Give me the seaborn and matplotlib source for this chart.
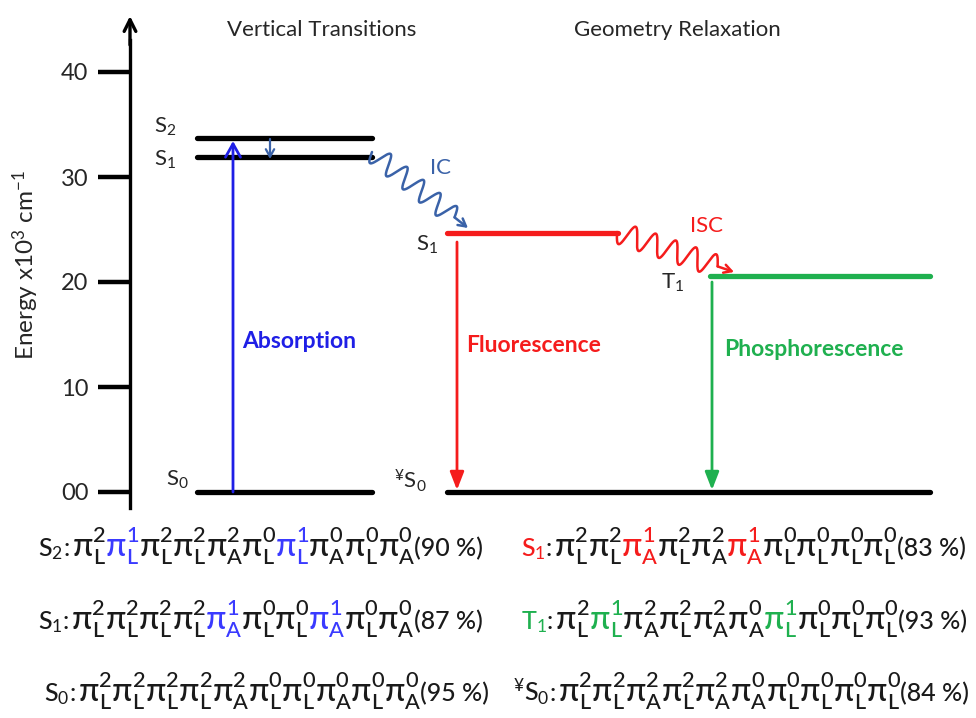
import numpy as np
import pandas as pd
import seaborn as sns
import matplotlib.pyplot as plt

# energy levels (x10^3 cm-1)
level_names = ["S2", "S1", "S0", "S1r", "T1", "S0r"]
level_energy = [33.7, 31.9, 0.0, 24.7, 20.6, 0.0]
level_labels = ["S$_2$", "S$_1$", "S$_0$", "S$_1$", "T$_1$", "$^{¥}$S$_0$"]

y_ticks = [0, 10, 20, 30, 40]
y_ticklabels = ["00", "10", "20", "30", "40"]
col_titles = ["Vertical Transitions", "Geometry Relaxation"]

# orbital configurations: (orbital, occupation, highlighted)
conf_s2 = [("L", 2, 0), ("L", 1, 1), ("L", 2, 0), ("L", 2, 0), ("A", 2, 0),
           ("L", 0, 0), ("L", 1, 1), ("A", 0, 0), ("L", 0, 0), ("A", 0, 0)]
conf_s1 = [("L", 2, 0), ("L", 2, 0), ("L", 2, 0), ("L", 2, 0), ("A", 1, 1),
           ("L", 0, 0), ("L", 0, 0), ("A", 1, 1), ("L", 0, 0), ("A", 0, 0)]
conf_s0 = [("L", 2, 0), ("L", 2, 0), ("L", 2, 0), ("L", 2, 0), ("A", 2, 0),
           ("L", 0, 0), ("L", 0, 0), ("A", 0, 0), ("L", 0, 0), ("A", 0, 0)]
conf_s1r = [("L", 2, 0), ("L", 2, 0), ("A", 1, 1), ("L", 2, 0), ("A", 2, 0),
            ("A", 1, 1), ("L", 0, 0), ("L", 0, 0), ("L", 0, 0), ("L", 0, 0)]
conf_t1 = [("L", 2, 0), ("L", 1, 1), ("A", 2, 0), ("L", 2, 0), ("A", 2, 0),
           ("A", 0, 0), ("L", 1, 1), ("L", 0, 0), ("L", 0, 0), ("L", 0, 0)]
conf_s0r = [("L", 2, 0), ("L", 2, 0), ("A", 2, 0), ("L", 2, 0), ("A", 2, 0),
            ("A", 0, 0), ("L", 0, 0), ("L", 0, 0), ("L", 0, 0), ("L", 0, 0)]
conf_weight = [90, 87, 95, 83, 93, 84]

BLUE = "#1f1fe6"
STEEL = "#3a62a8"
RED = "#f51c1c"
GREEN = "#1fb04f"
TBLUE = "#3a3aff"
INK = "#1a1a1a"

W, H = 976, 718
Y0, K = 492, 10.5          # pixel row of E=0, pixels per unit


def ey(py):
    return (Y0 - np.asarray(py, float)) / K


sns.set_theme(style="white")
plt.rcParams["font.family"] = ["Lato", "DejaVu Sans"]
plt.rcParams["mathtext.fontset"] = "custom"
plt.rcParams["mathtext.rm"] = "Lato"
plt.rcParams["mathtext.it"] = "Lato"
plt.rcParams["mathtext.bf"] = "Lato:bold"

fig = plt.figure(figsize=(W / 100, H / 100), dpi=100)
ax = fig.add_axes([0, 0, 1, 1])
ax.set_xlim(0, W)
ax.set_ylim(ey(H), ey(0))

# level lines
level_x = [(197, 372), (197, 372), (197, 372), (447, 618), (710, 930), (447, 930)]
level_colors = ["black", "black", "black", RED, GREEN, "black"]
rows = []
for name, e, (x0, x1) in zip(level_names, level_energy, level_x):
    rows.append({"level": name, "x": x0, "energy": e})
    rows.append({"level": name, "x": x1, "energy": e})
df = pd.DataFrame(rows)
sns.lineplot(data=df, x="x", y="energy", hue="level", units="level",
             estimator=None, sort=False, legend=False, lw=3.8,
             palette=dict(zip(level_names, level_colors)),
             solid_capstyle="round", ax=ax)

# level labels
label_pos = [(165, 127), (165, 160), (177, 480), (427, 245), (673, 283), (410, 481)]
for lab, (px, py) in zip(level_labels, label_pos):
    ax.text(px, ey(py), lab, fontsize=16, ha="center", va="center")

# y axis drawn as a spine with long ticks and an arrow on top
for s in ["top", "right", "bottom"]:
    ax.spines[s].set_visible(False)
ax.spines["left"].set_position(("data", 130))
ax.spines["left"].set_bounds(ey(508), ey(40))
ax.spines["left"].set_linewidth(2.4)
ax.spines["left"].set_color("black")
ax.set_xticks([])
ax.set_yticks(y_ticks)
ax.set_yticklabels(y_ticklabels)
ax.tick_params(axis="y", direction="out", length=23, width=3.2, labelsize=17,
               pad=7, left=True, color="black")
ax.set_xlabel("")
ax.set_ylabel("")
ax.annotate("", xy=(130, ey(16)), xytext=(130, ey(45)),
            arrowprops=dict(arrowstyle="->,head_length=0.7,head_width=0.35",
                            lw=2.4, color="black", shrinkA=0, shrinkB=0))
ax.text(26, ey(265), "Energy x10$^3$ cm$^{-1}$", rotation=90, fontsize=17.5,
        ha="center", va="center")

ax.text(322, ey(30), col_titles[0], fontsize=16, ha="center", va="center")
ax.text(677, ey(30), col_titles[1], fontsize=16, ha="center", va="center")


def arrow(x, y_from, y_to, color, lw, style):
    ax.annotate("", xy=(x, ey(y_to)), xytext=(x, ey(y_from)),
                arrowprops=dict(arrowstyle=style, lw=lw, color=color,
                                shrinkA=0, shrinkB=0))


arrow(233, 492, 141, BLUE, 2.0, "->,head_length=0.8,head_width=0.45")
arrow(270, 139, 159, STEEL, 1.6, "->,head_length=0.45,head_width=0.25")
arrow(457, 242, 490, RED, 2.0, "-|>,head_length=0.9,head_width=0.35")
arrow(712, 282, 490, GREEN, 2.0, "-|>,head_length=0.9,head_width=0.35")


def wavy(p0, p1, color, n=5, amp=10.0):
    p0, p1 = np.array(p0, float), np.array(p1, float)
    d = p1 - p0
    L = np.hypot(*d)
    u = d / L
    nrm = np.array([-u[1], u[0]])
    t = np.linspace(0, 1, 400)
    s = t * L * 0.86
    off = amp * np.sin(2 * np.pi * n * t)
    pts = p0 + np.outer(s, u) + np.outer(off, nrm)
    ax.plot(pts[:, 0], ey(pts[:, 1]), color=color, lw=1.8)
    ax.annotate("", xy=(p1[0], ey(p1[1])), xytext=(pts[-1, 0], ey(pts[-1, 1])),
                arrowprops=dict(arrowstyle="->,head_length=0.45,head_width=0.25",
                                lw=1.8, color=color, shrinkA=0, shrinkB=0))


wavy((372, 152), (468, 228), STEEL)
wavy((617, 232), (734, 272), RED, amp=11.0)
ax.text(440, ey(168), "IC", color=STEEL, fontsize=16, ha="center", va="center")
ax.text(707, ey(226), "ISC", color=RED, fontsize=16, ha="center", va="center")

ax.text(242, ey(341), "Absorption", color=BLUE, fontsize=16.5, fontweight="bold",
        ha="left", va="center")
ax.text(466, ey(345), "Fluorescence", color=RED, fontsize=16.5, fontweight="bold",
        ha="left", va="center")
ax.text(724, ey(349), "Phosphorescence", color=GREEN, fontsize=16.5,
        fontweight="bold", ha="left", va="center")

# configuration lines, drawn piece by piece
renderer = fig.canvas.get_renderer()
PX = 100 / 72.0   # pixels per point
LAB_FS = 18.0     # state label and weight


def conf_row(px, py, label, label_color, conf, hl_color, weight, F):
    texts = []

    def put(x, s, c, fs, dy=0.0):
        t = ax.text(x, ey(py - dy), s, color=c, fontsize=fs, ha="left",
                    va="baseline", fontweight="medium")
        texts.append(t)
        return t.get_window_extent(renderer).width

    x = px
    x += put(x, label, label_color, LAB_FS)
    x += put(x, ":", INK, LAB_FS) + 3
    fs_p = 1.18 * F
    fs_s = 0.78 * F
    for orb, occ, hl in conf:
        c = hl_color if hl else INK
        x += put(x, "\u03c0", c, fs_p)
        w1 = put(x, orb, c, fs_s, dy=-0.3 * F * PX)
        w2 = put(x, str(occ), c, fs_s, dy=0.5 * F * PX)
        x += max(w1, w2) + 0.5
    x += put(x, "(%d %%)" % weight, INK, LAB_FS)
    return texts, x - px


# fit the orbital part so the first line spans its width in the reference
F0 = 15.0
tmp, width0 = conf_row(38, 556, "S$_2$", INK, conf_s2, TBLUE, conf_weight[0], F0)
for t in tmp:
    t.remove()
tmp, width_min = conf_row(38, 556, "S$_2$", INK, conf_s2, TBLUE, conf_weight[0], 0.001)
for t in tmp:
    t.remove()
F = F0 * (440.0 - width_min) / (width0 - width_min)

conf_row(38, 556, "S$_2$", INK, conf_s2, TBLUE, conf_weight[0], F)
conf_row(38, 629, "S$_1$", INK, conf_s1, TBLUE, conf_weight[1], F)
conf_row(44, 701, "S$_0$", INK, conf_s0, TBLUE, conf_weight[2], F)
conf_row(521, 556, "S$_1$", RED, conf_s1r, RED, conf_weight[3], F)
conf_row(521, 629, "T$_1$", GREEN, conf_t1, GREEN, conf_weight[4], F)
conf_row(513, 701, "$^{¥}$S$_0$", INK, conf_s0r, INK, conf_weight[5], F)

fig.savefig("out.png", dpi=100)
